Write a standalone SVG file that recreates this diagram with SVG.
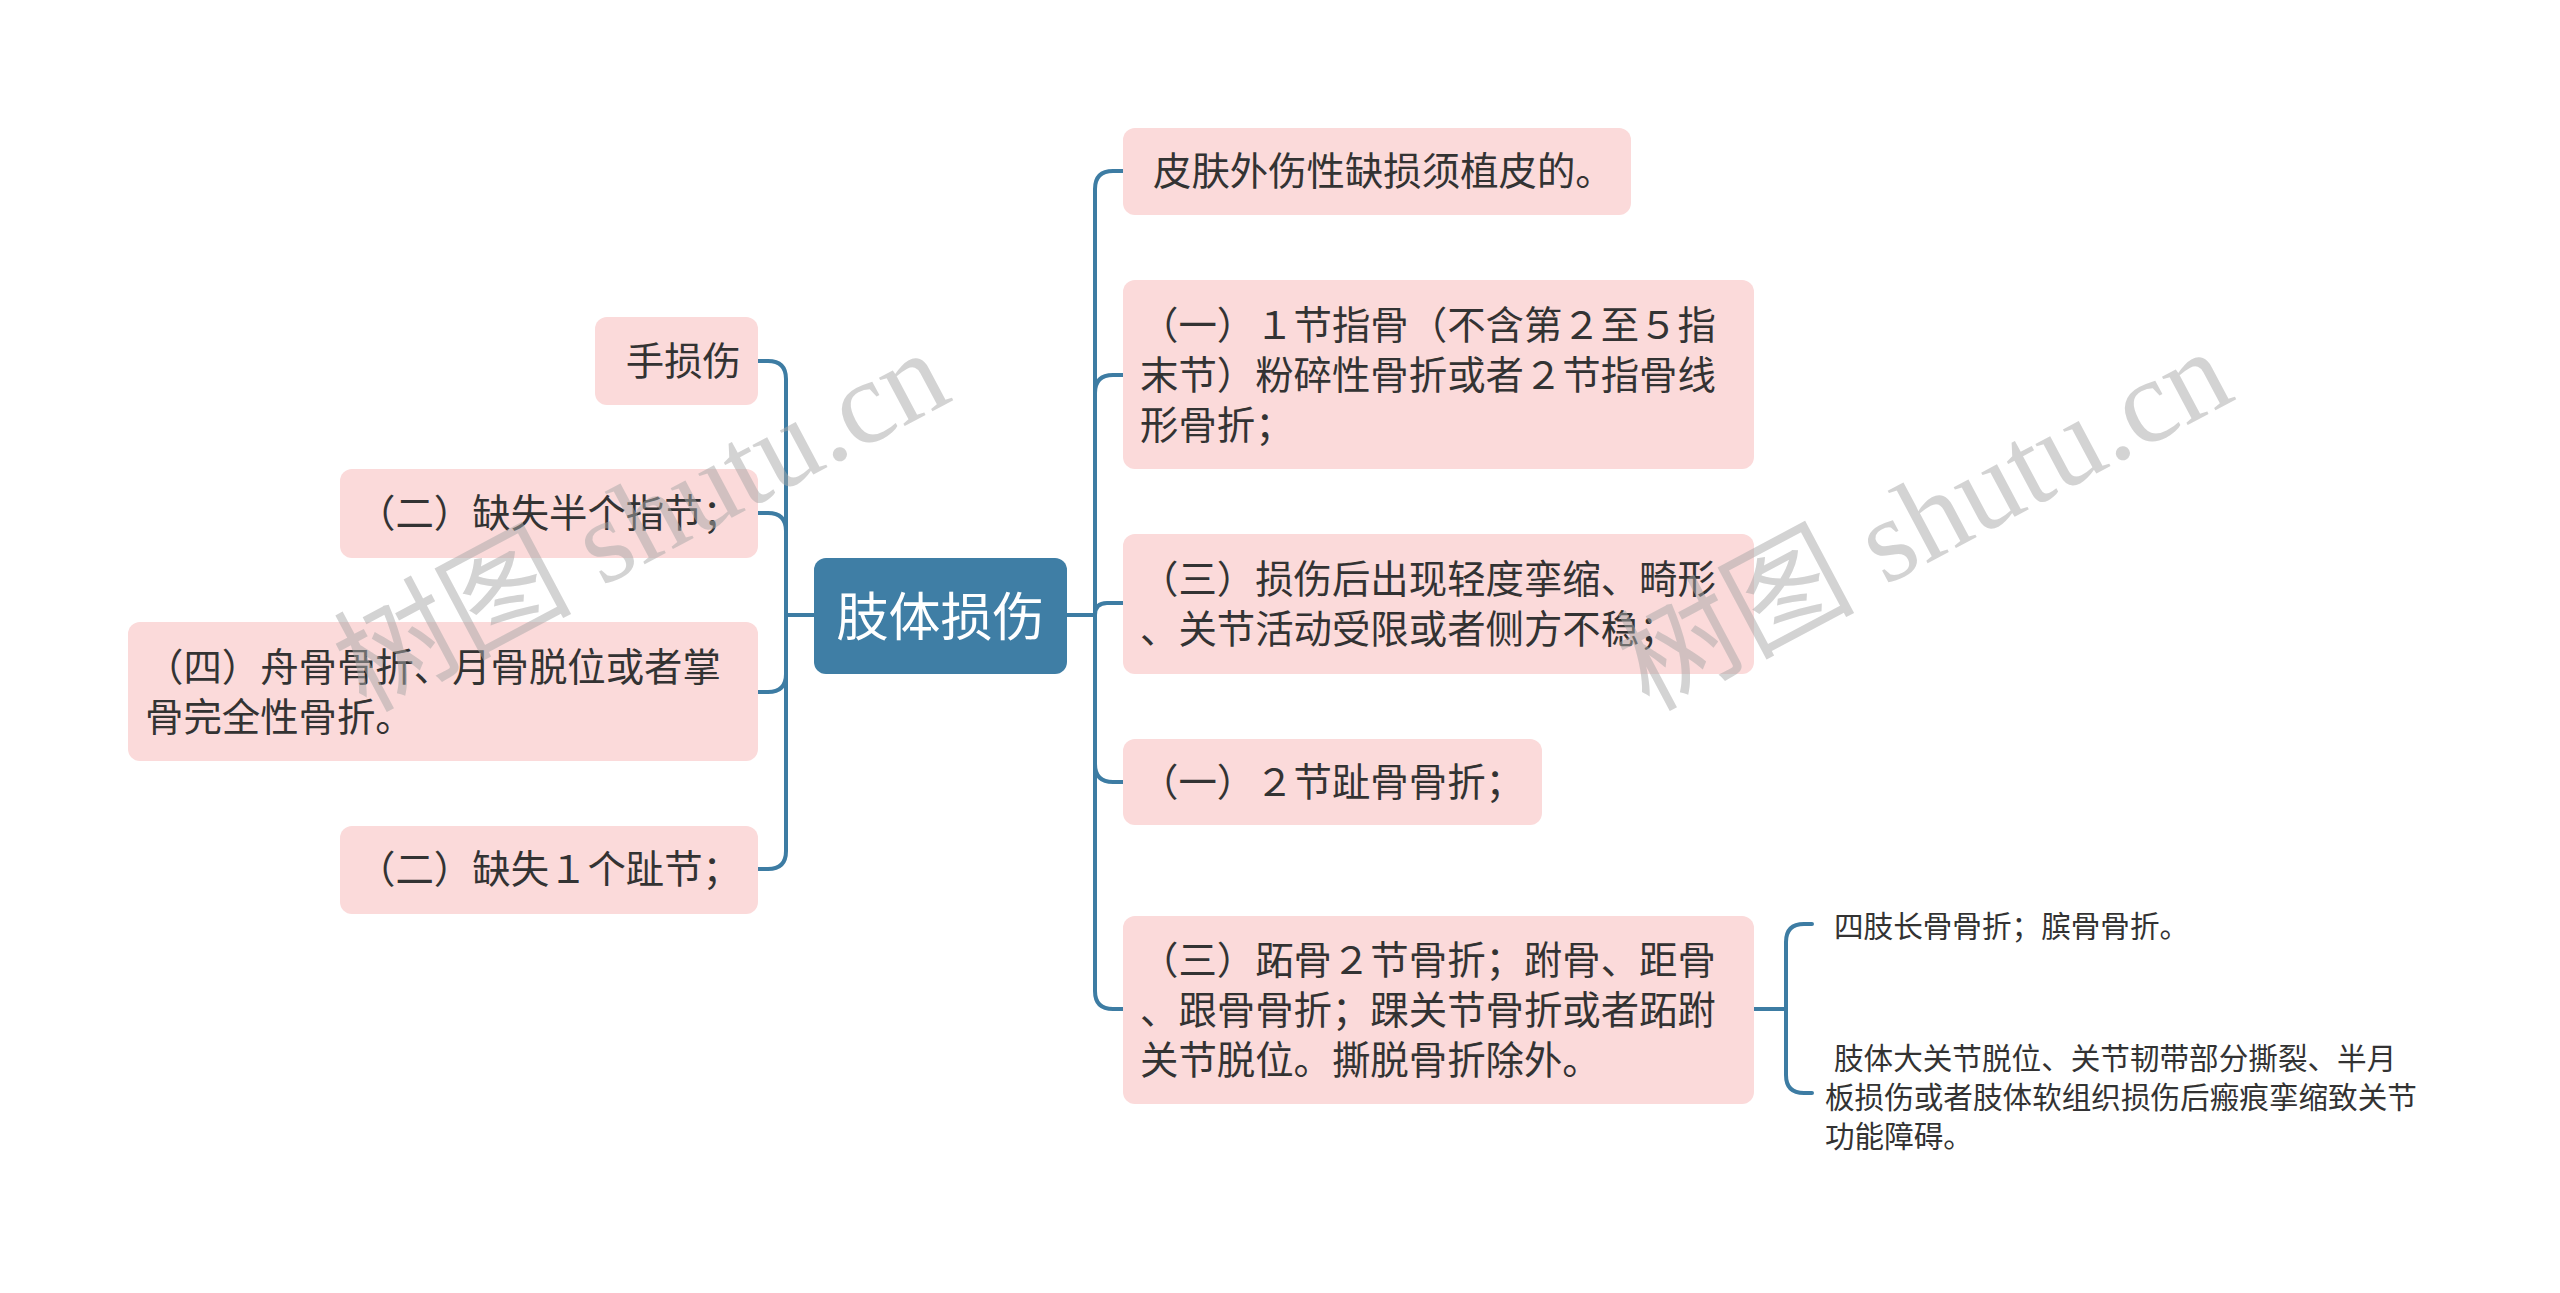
<svg xmlns="http://www.w3.org/2000/svg" width="2560" height="1293" viewBox="0 0 2560 1293">
<style>
.n rect{fill:#fbdada}
.t{font-family:"Noto Sans CJK SC","Microsoft YaHei",sans-serif;font-size:38.4px;fill:#333333;dominant-baseline:central}
.s{font-size:29.6px}
.e{text-anchor:end}
.root rect{fill:#3f7ea5}
.root text{fill:#ffffff;font-size:52px;text-anchor:middle}
.c path{fill:none;stroke:#3d7ca3;stroke-width:4;stroke-linecap:round}
.wm{font-family:"Liberation Serif","Noto Sans CJK SC",serif;font-size:119px;fill:#a8a8a8;opacity:0.5;text-anchor:middle}
</style>
<rect width="2560" height="1293" fill="#ffffff"/>
<g id="connectors" class="c">
<path d="M814,615 H786"/>
<path d="M786,615 V379 Q786,361 768,361 H758"/>
<path d="M786,615 V531 Q786,513 768,513 H758"/>
<path d="M786,615 V674 Q786,692 768,692 H758"/>
<path d="M786,615 V851 Q786,869 768,869 H758"/>
<path d="M1067,615 H1095"/>
<path d="M1095,615 V189 Q1095,171 1113,171 H1123"/>
<path d="M1095,615 V393 Q1095,375 1113,375 H1123"/>
<path d="M1095,615 Q1095,603 1107,603 H1123"/>
<path d="M1095,615 V764 Q1095,782 1113,782 H1123"/>
<path d="M1095,615 V991 Q1095,1009 1113,1009 H1123"/>
<path d="M1754,1009 H1786"/>
<path d="M1786,1009 V942 Q1786,924 1804,924 H1812"/>
<path d="M1786,1009 V1075 Q1786,1093 1804,1093 H1812"/>
</g>
<g id="root" class="root">
<rect x="814" y="558" width="253" height="116" rx="12"/>
<text class="t" x="940.5" y="613">肢体损伤</text>
</g>
<g id="l1" class="n">
<rect x="595" y="317" width="163" height="88" rx="12"/>
<text class="t e" x="741" y="358">手损伤</text>
</g>
<g id="l2" class="n">
<rect x="340" y="469" width="418" height="89" rx="12"/>
<text class="t e" x="741" y="510">（二）缺失半个指节；</text>
</g>
<g id="l3" class="n">
<rect x="128" y="622" width="630" height="139" rx="12"/>
<text class="t" x="145" y="664">（四）舟骨骨折、月骨脱位或者掌</text>
<text class="t" x="145" y="714">骨完全性骨折。</text>
</g>
<g id="l4" class="n">
<rect x="340" y="826" width="418" height="88" rx="12"/>
<text class="t e" x="741" y="866">（二）缺失１个趾节；</text>
</g>
<g id="r1" class="n">
<rect x="1123" y="128" width="508" height="87" rx="12"/>
<text class="t" x="1153" y="168">皮肤外伤性缺损须植皮的。</text>
</g>
<g id="r2" class="n">
<rect x="1123" y="280" width="631" height="189" rx="12"/>
<text class="t" x="1140" y="322">（一）１节指骨（不含第２至５指</text>
<text class="t" x="1140" y="372">末节）粉碎性骨折或者２节指骨线</text>
<text class="t" x="1140" y="422">形骨折；</text>
</g>
<g id="r3" class="n">
<rect x="1123" y="534" width="631" height="140" rx="12"/>
<text class="t" x="1140" y="576">（三）损伤后出现轻度挛缩、畸形</text>
<text class="t" x="1140" y="626">、关节活动受限或者侧方不稳；</text>
</g>
<g id="r4" class="n">
<rect x="1123" y="739" width="419" height="86" rx="12"/>
<text class="t" x="1140" y="779">（一）２节趾骨骨折；</text>
</g>
<g id="r5" class="n">
<rect x="1123" y="916" width="631" height="188" rx="12"/>
<text class="t" x="1140" y="957">（三）跖骨２节骨折；跗骨、距骨</text>
<text class="t" x="1140" y="1007">、跟骨骨折；踝关节骨折或者跖跗</text>
<text class="t" x="1140" y="1057">关节脱位。撕脱骨折除外。</text>
</g>
<g id="s1">
<text class="t s" x="1834" y="924">四肢长骨骨折；膑骨骨折。</text>
</g>
<g id="s2">
<text class="t s" x="1834" y="1056">肢体大关节脱位、关节韧带部分撕裂、半月</text>
<text class="t s" x="1825" y="1095">板损伤或者肢体软组织损伤后瘢痕挛缩致关节</text>
<text class="t s" x="1825" y="1134">功能障碍。</text>
</g>
<g id="watermark">
<text class="wm" transform="translate(660,556) rotate(-28)">树图 shutu.cn</text>
<text class="wm" transform="translate(1943,555) rotate(-28)">树图 shutu.cn</text>
</g>
</svg>
